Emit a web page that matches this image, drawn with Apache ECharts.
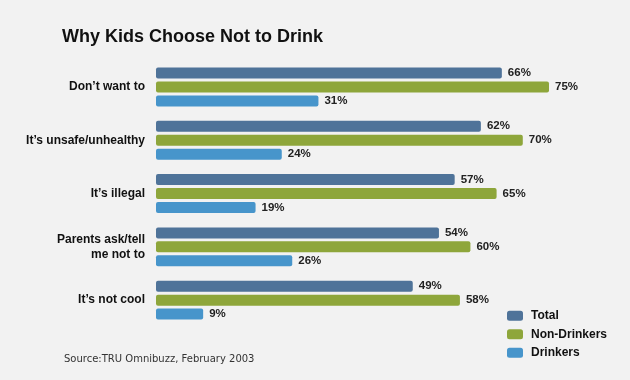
<!DOCTYPE html>
<html><head><meta charset="utf-8">
<script src="https://cdn.jsdelivr.net/npm/echarts@6/dist/echarts.min.js"></script>
<style>html,body{margin:0;padding:0;background:#f2f2f2}#c{width:630px;height:380px}</style>
</head><body><div id="c"></div>
<script>
const categories = ["Don\u2019t want to", "It\u2019s unsafe/unhealthy", "It\u2019s illegal", "Parents ask/tell\nme not to", "It\u2019s not cool"];
const totalValues = [66, 62, 57, 54, 49];
const nonDrinkerValues = [75, 70, 65, 60, 58];
const drinkerValues = [31, 24, 19, 26, 9];
const seriesNames = ["Total", "Non-Drinkers", "Drinkers"];
const colors = ["#4f7399", "#8ea63b", "#4795cb"];

const chart = echarts.init(document.getElementById('c'), null, {renderer: 'canvas'});
const labelStyle = {
  show: true, position: 'right', distance: 6, formatter: '{c}%',
  fontFamily: '"Liberation Sans", Arial, sans-serif',
  fontWeight: 'bold', fontSize: 11.5, color: '#222'
};
function mk(i, data) {
  return {
    name: seriesNames[i], type: 'bar', data: data, barWidth: 11, barGap: '27%',
    itemStyle: {color: colors[i], borderRadius: 2},
    label: labelStyle
  };
}
chart.setOption({
  backgroundColor: '#f2f2f2',
  animation: false,
  title: {
    text: 'Why Kids Choose Not to Drink', left: 62, top: 28, padding: 0,
    textStyle: {fontFamily: '"Liberation Sans", Arial, sans-serif', fontWeight: 'bold', fontSize: 18, color: '#111'}
  },
  graphic: [{
    type: 'text', left: 64, top: 354,
    style: {text: 'Source:TRU Omnibuzz, February 2003', font: '10px "DejaVu Sans", sans-serif', fill: '#333'}
  }],
  legend: {
    orient: 'vertical', left: 502, top: 304.7, itemWidth: 16, itemHeight: 10, itemGap: 6.5,
    icon: 'roundRect',
    data: seriesNames,
    textStyle: {fontFamily: '"Liberation Sans", Arial, sans-serif', fontWeight: 'bold', fontSize: 12, color: '#111', padding: [0, 0, 0, 3]}
  },
  grid: {left: 156, top: 60.3, width: 419.2, height: 266.5, containLabel: false},
  xAxis: {type: 'value', min: 0, max: 80, show: false},
  yAxis: {
    type: 'category', data: categories, inverse: true,
    axisLine: {show: false}, axisTick: {show: false},
    axisLabel: {margin: 11, fontFamily: '"Liberation Sans", Arial, sans-serif', fontWeight: 'bold', fontSize: 12, color: '#111', lineHeight: 15, align: 'right'}
  },
  series: [mk(0, totalValues), mk(1, nonDrinkerValues), mk(2, drinkerValues)]
});
</script></body></html>
